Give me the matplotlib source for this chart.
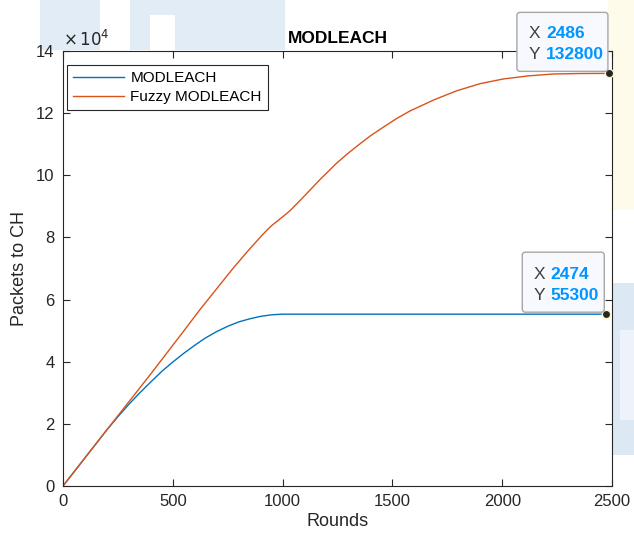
import matplotlib
matplotlib.use("Agg")
import matplotlib.pyplot as plt
from matplotlib.patches import Rectangle, FancyBboxPatch
from matplotlib.transforms import Affine2D

plt.rcParams['font.family'] = ['Liberation Sans', 'DejaVu Sans']

# data
rounds_mod = [0, 100, 200, 250, 300, 350, 400, 450, 500, 550, 600, 650, 700, 750, 800,
              850, 900, 950, 1000, 1500, 2000, 2474]
packets_mod = [0, 9050, 18100, 22300, 26300, 30000, 33500, 36900, 39900, 42700, 45300,
               47700, 49700, 51400, 52800, 53800, 54600, 55100, 55300, 55300, 55300, 55300]

rounds_fuzzy = [0, 100, 200, 300, 400, 487, 550, 624, 700, 776, 850, 900, 928, 950, 973,
                1003, 1034, 1100, 1170, 1246, 1300, 1350, 1400, 1459, 1520, 1580, 1690,
                1793, 1900, 2005, 2120, 2233, 2350, 2486]
packets_fuzzy = [0, 9050, 18100, 27100, 36100, 44100, 49900, 56800, 63500, 70200, 76300,
                 80200, 82300, 83800, 85100, 86800, 88600, 93400, 98600, 103900, 107200,
                 110000, 112700, 115500, 118300, 120700, 124300, 127200, 129500, 131000,
                 132000, 132600, 132750, 132800]

tips = [(2486, 132800), (2474, 55300)]
tip_boxes = [(-92, 2, 91, 59), (-84, 2, 82, 60)]   # box offset/size in pixels
tip_text_x = [(-80, -63), (-73, -56)]

W, H = 634, 537
fig = plt.figure(figsize=(W / 100, H / 100), dpi=100)

# faint watermark in the margins
def px_rect(x0, y0, x1, y1, color):
    fig.add_artist(Rectangle((x0 / W, 1 - y1 / H), (x1 - x0) / W, (y1 - y0) / H,
                             transform=fig.transFigure, color=color, lw=0, zorder=-5))

px_rect(40, 0, 285, 50, '#e2ecf6')
px_rect(100, 0, 130, 50, 'white')
px_rect(150, 15, 175, 50, 'white')
px_rect(608, 0, 634, 210, '#fefbea')
px_rect(612, 283, 634, 455, '#dce8f4')
px_rect(620, 330, 634, 420, '#edf3f9')

ax = fig.add_axes([63 / W, 51 / H, 549 / W, 435 / H])
ax.plot(rounds_mod, packets_mod, color='#0072bd', lw=1, label='MODLEACH')
ax.plot(rounds_fuzzy, packets_fuzzy, color='#d95319', lw=1, label='Fuzzy MODLEACH')

ax.set_xlim(0, 2500)
ax.set_ylim(0, 140000)
ax.set_xticks([0, 500, 1000, 1500, 2000, 2500])
ax.set_yticks(range(0, 140001, 20000))
ax.set_yticklabels([str(v // 10000) for v in range(0, 140001, 20000)])
ax.tick_params(direction='in', length=5, width=0.8, colors='#262626', labelsize=12,
               top=True, right=True, pad=6)
for s in ax.spines.values():
    s.set_color('#262626')
    s.set_linewidth(0.8)
ax.text(0.0, 1.005, r'$\times\,10^{4}$', transform=ax.transAxes, fontsize=12,
        color='#262626', ha='left', va='bottom')

ax.set_xlabel('Rounds', fontsize=13, color='#262626', labelpad=3)
ax.set_ylabel('Packets to CH', fontsize=13, color='#262626', labelpad=6)
ax.set_title('MODLEACH', fontsize=12.5, fontweight='bold', pad=6)

leg = ax.legend(loc='upper left', fontsize=11, fancybox=False, framealpha=1,
                edgecolor='#262626', borderaxespad=0, handlelength=3.3, handletextpad=0.45,
                borderpad=0.4, labelspacing=0.32,
                bbox_to_anchor=(67 / W, 1 - 65 / H), bbox_transform=fig.transFigure)
leg.get_frame().set_linewidth(0.8)

# data tips (pixel offsets from the data point)
for (x, y), (bx, by, bw, bh), (tx, vx) in zip(tips, tip_boxes, tip_text_x):
    px, py = ax.transData.transform((x, y))
    box = FancyBboxPatch((bx, by), bw, bh, boxstyle='round,pad=0,rounding_size=3',
                         transform=Affine2D().translate(px, py),
                         facecolor='#f8f9ff', edgecolor='#a6a6a6', lw=1, zorder=10)
    fig.add_artist(box)
    for row, lab, val in [(40, 'X', str(x)), (19, 'Y', str(y))]:
        fig.text((px + tx) / W, (py + row) / H, lab, fontsize=12.5, color='#404040',
                 va='center', ha='left', zorder=11)
        fig.text((px + vx) / W, (py + row) / H, val, fontsize=12.5, color='#0096ff',
                 fontweight='bold', va='center', ha='left', zorder=11)
    ax.plot(x, y, 'o', ms=6, mfc='#262626', mec='#fff7c8', mew=1, clip_on=False, zorder=12)

fig.savefig('out.png', dpi=100)
